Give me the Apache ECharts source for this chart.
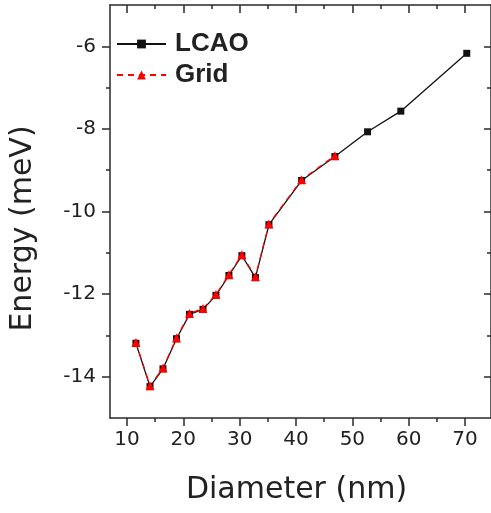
<!DOCTYPE html>
<html>
<head>
<meta charset="utf-8">
<script src="https://cdn.jsdelivr.net/npm/echarts@6/dist/echarts.min.js"></script>
<style>
html,body{margin:0;padding:0;background:#fff;}
#chart{width:491px;height:513px;}
</style>
</head>
<body>
<div id="chart"></div>
<script>
// Data
var lcaoDiameter = [11.6, 14.1, 16.4, 18.8, 21.1, 23.5, 25.8, 28.1, 30.4, 32.8, 35.2, 41.0, 46.9, 52.7, 58.6, 70.3];
var lcaoEnergy   = [-13.19, -14.24, -13.81, -13.08, -12.49, -12.37, -12.03, -11.55, -11.07, -11.60, -10.32, -9.25, -8.67, -8.07, -7.57, -6.17];
var gridDiameter = [11.6, 14.1, 16.4, 18.8, 21.1, 23.5, 25.8, 28.1, 30.4, 32.8, 35.2, 41.0, 46.9];
var gridEnergy   = [-13.17, -14.22, -13.79, -13.06, -12.47, -12.35, -12.01, -11.53, -11.05, -11.58, -10.30, -9.23, -8.65];
var xMajorTicks = [10, 20, 30, 40, 50, 60, 70];
var xMinorTicks = [15, 25, 35, 45, 55, 65];
var yMajorTicks = [-14, -12, -10, -8, -6];
var yMinorTicks = [-13, -11, -9, -7];
var seriesNames = ['LCAO', 'Grid'];

function pairs(xs, ys) { return xs.map(function (x, i) { return [x, ys[i]]; }); }

var FONT = "'Liberation Sans', Arial, Helvetica, sans-serif";
var WFONT = "'DejaVu Sans', 'Liberation Sans', Arial, sans-serif";
var AX = '#2a2a2a';
var XMIN = 7, XMAX = 74.6, YMIN = -15, YMAX = -5;

function mkAx(range, pos, ticks, len, inside, labels, line, margin, extra) {
  var a = {
    type: 'value', position: pos, min: range[0], max: range[1],
    axisLine: { show: line, onZero: false, lineStyle: { color: AX, width: 1.5 } },
    axisTick: { show: true, inside: inside, length: len, customValues: ticks, lineStyle: { color: AX, width: 1.5 } },
    axisLabel: labels ? { show: true, customValues: ticks, margin: margin, fontSize: 20, color: '#222', fontFamily: WFONT } : { show: false },
    splitLine: { show: false }
  };
  return Object.assign(a, extra || {});
}
var XR = [XMIN, XMAX], YR = [YMIN, YMAX];

var chart = echarts.init(document.getElementById('chart'), null, { renderer: 'canvas' });
chart.setOption({
  animation: false,
  backgroundColor: '#fff',
  grid: { left: 109, right: -2, top: 5, bottom: 95, containLabel: false },
  legend: {
    orient: 'vertical', left: 111, top: 26, itemGap: 5,
    itemWidth: 49, itemHeight: 11,
    data: seriesNames,
    textStyle: { fontSize: 26, fontWeight: 'bold', color: '#222', fontFamily: FONT, padding: [0, 0, 0, 4] }
  },
  xAxis: [
    mkAx(XR, 'bottom', xMajorTicks, 8, false, true, true, 12, {
      name: 'Diameter (nm)', nameLocation: 'middle', nameGap: 57,
      nameTextStyle: { fontSize: 30, color: '#222', fontFamily: WFONT, padding: [0, 8, 0, 0] }
    }),
    mkAx(XR, 'bottom', xMinorTicks, 4, false, false, false, 0),
    mkAx(XR, 'top', xMajorTicks, 8, true, false, true, 0),
    mkAx(XR, 'top', xMinorTicks, 4, true, false, false, 0)
  ],
  yAxis: [
    mkAx(YR, 'left', yMajorTicks, 8, false, true, true, 14, {
      name: 'Energy (meV)', nameLocation: 'middle', nameGap: 72,
      nameTextStyle: { fontSize: 30, color: '#222', fontFamily: WFONT, padding: [0, 34, 0, 0] }
    }),
    mkAx(YR, 'left', yMinorTicks, 4, false, false, false, 0),
    mkAx(YR, 'right', yMajorTicks, 7, true, false, true, 0),
    mkAx(YR, 'right', yMinorTicks, 4, true, false, false, 0)
  ],
  series: [
    {
      name: seriesNames[0], type: 'line', xAxisIndex: 0, yAxisIndex: 0,
      data: pairs(lcaoDiameter, lcaoEnergy),
      symbol: 'rect', symbolSize: 7,
      lineStyle: { color: '#111', width: 1.3 },
      itemStyle: { color: '#111' }
    },
    {
      name: seriesNames[1], type: 'line', xAxisIndex: 0, yAxisIndex: 0,
      data: pairs(gridDiameter, gridEnergy),
      symbol: 'triangle', symbolSize: 9,
      lineStyle: { color: '#ff0000', width: 1.3, type: [6, 5] },
      itemStyle: { color: '#ff0000' }
    }
  ]
});
</script>
</body>
</html>
